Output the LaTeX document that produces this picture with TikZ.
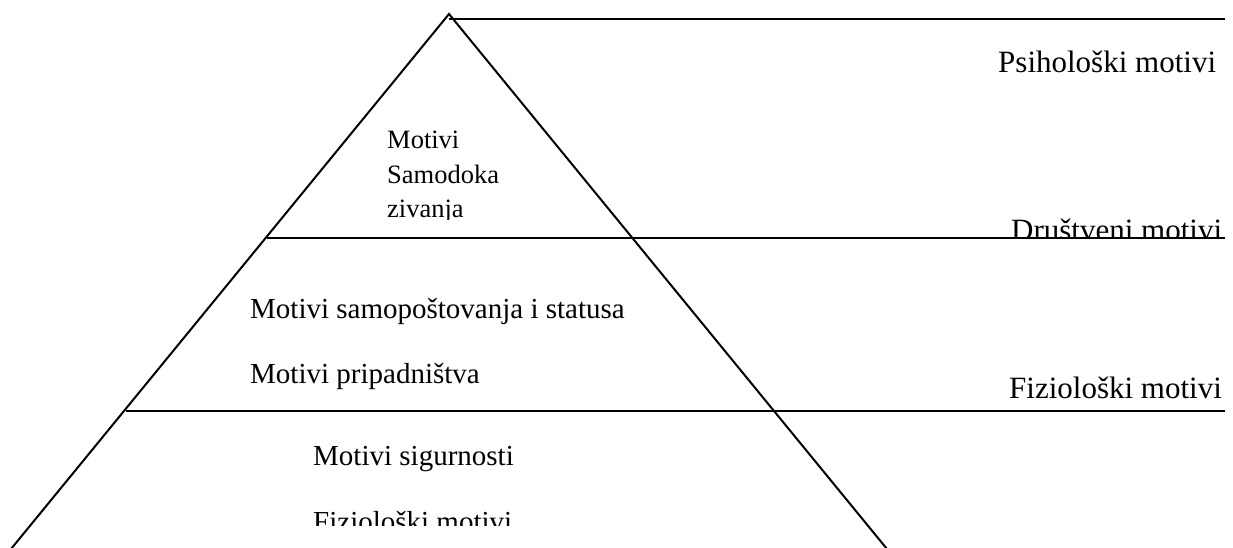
\documentclass[tikz,border=0pt]{standalone}
\usepackage{fontspec}
\setmainfont{Liberation Serif}
\begin{document}
\begin{tikzpicture}[x=1pt,y=-1pt,
  edge/.style={line width=2pt,black},
  big/.style={font=\fontsize{31}{36}\selectfont,inner sep=0pt,anchor=base west},
  mid/.style={font=\fontsize{29}{34}\selectfont,inner sep=0pt,anchor=base west},
  small/.style={font=\fontsize{26.5}{32}\selectfont,inner sep=0pt,anchor=base west}]
\useasboundingbox (0,0) rectangle (1233,547);
\clip (0,0) rectangle (1233,547);
% pyramid
\coordinate (apex) at (449,14);
\coordinate (bl) at (11,549);
\coordinate (br) at (887,549);
\draw[edge] (bl) -- (apex) -- (br);
% level lines
\coordinate (t1) at (449,18.5);
\coordinate (t2) at (1225,18.5);
\coordinate (m1) at (267,238);
\coordinate (m2) at (1225,238);
\coordinate (b1) at (126,411);
\coordinate (b2) at (1225,411);
\draw[edge] (t1) -- (t2);
\draw[edge] (m1) -- (m2);
\draw[edge] (b1) -- (b2);
% right labels
\node[big] (psi) at (998,72) {Psihološki motivi};
\begin{scope}
\clip (900,180) rectangle (1233,236);
\node[big] (dru) at (1011,240) {Društveni motivi};
\end{scope}
\node[big] (fiz) at (1009,398) {Fiziološki motivi};
% top level text
\begin{scope}
\clip (380,100) rectangle (560,219);
\node[small] (mot1) at (387,148) {Motivi};
\node[small] (mot2) at (387,183) {Samodoka};
\node[small] (mot3) at (387,217) {zivanja};
\end{scope}
% middle level
\node[mid] (sam) at (250,318) {Motivi samopoštovanja i statusa};
\node[mid] (pri) at (250,383) {Motivi pripadništva};
% bottom level
\node[mid] (sig) at (313,465) {Motivi sigurnosti};
\begin{scope}
\clip (300,480) rectangle (600,525);
\node[mid] (fiz2) at (313,531) {Fiziološki motivi};
\end{scope}
\end{tikzpicture}
\end{document}
